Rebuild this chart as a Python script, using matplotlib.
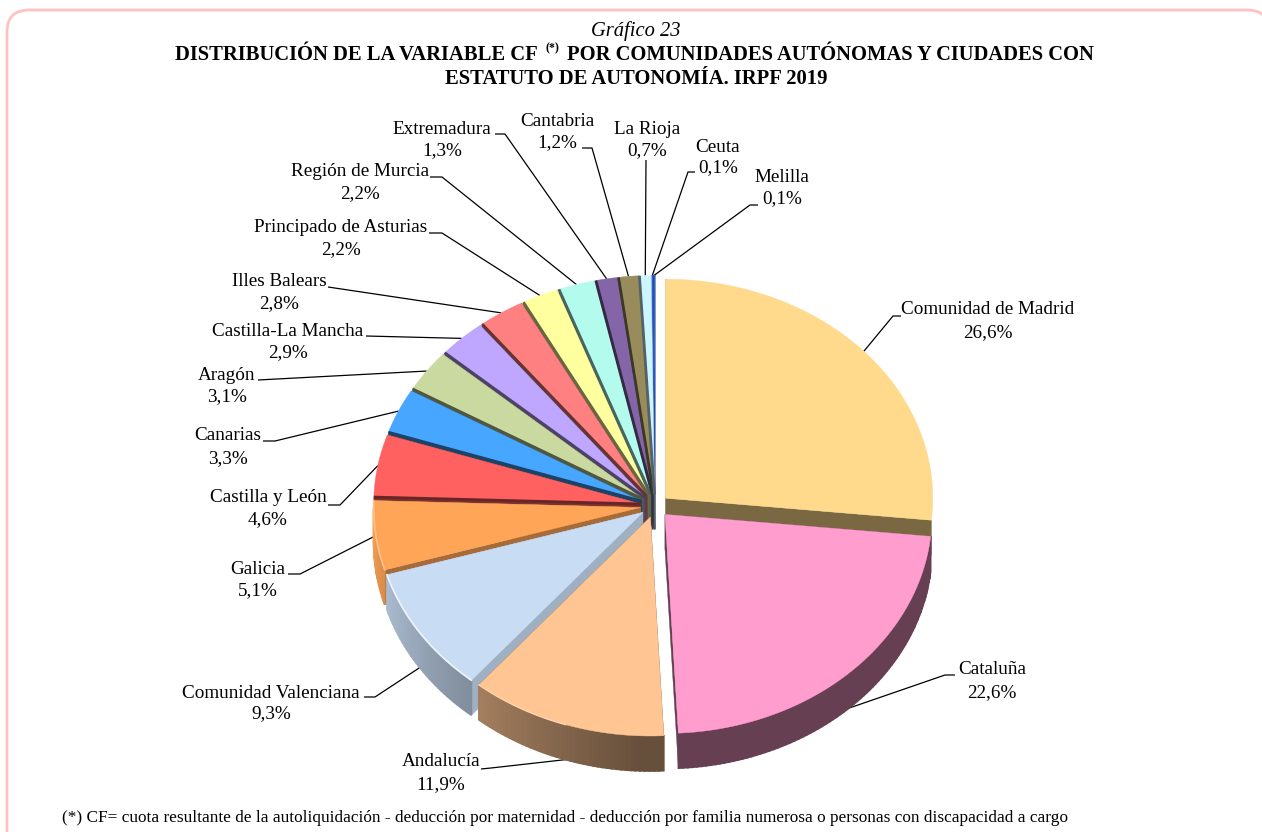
import numpy as np
import matplotlib
matplotlib.use("Agg")
import matplotlib.pyplot as plt
from matplotlib.patches import FancyBboxPatch

plt.rcParams["font.family"] = ["Liberation Serif", "DejaVu Serif"]

regions = ["Comunidad de Madrid", "Cataluña", "Andalucía", "Comunidad Valenciana",
           "Galicia", "Castilla y León", "Canarias", "Aragón", "Castilla-La Mancha",
           "Illes Balears", "Principado de Asturias", "Región de Murcia", "Extremadura",
           "Cantabria", "La Rioja", "Ceuta", "Melilla"]
shares = [26.6, 22.6, 11.9, 9.3, 5.1, 4.6, 3.3, 3.1, 2.9, 2.8, 2.2, 2.2, 1.3, 1.2, 0.7, 0.1, 0.1]
colors = ["#ffd98c", "#ff9dcf", "#ffc593", "#c8dcf4", "#ffa558", "#ff6060", "#47a6ff",
          "#c9d9a0", "#bfa6ff", "#ff8080", "#ffff9f", "#b3fbec", "#8465a8", "#998c5c",
          "#ccf6ff", "#2d60d0", "#2d60d0"]
# how dark the cut faces are, by slice
cut_shade = [0.48, 0.4, 0.4, 0.8, 0.65, 0.5, 0.42, 0.42, 0.42, 0.42, 0.42, 0.42, 0.42, 0.42, 0.42, 0.42, 0.42]

# pie geometry in pixels
cx, cy = 655, 506
rx, ry = 267, 219
explode = 14.5
tilt = 0.8
depth = 35

# label centre x, name y, value y, elbow (x0, y0, x1, y1)
label_layout = [
    (988, 310, 333, (901, 316, 893, 316)),
    (992, 670, 693, (955, 675, 945, 675)),
    (441, 762, 785, (481, 769, 491, 768)),
    (271, 693, 714, (364, 697, 375, 697)),
    (258, 569, 591, (288, 574, 300, 574)),
    (268, 498, 520, (328, 505, 340, 505)),
    (228, 436, 459, (263, 441, 275, 441)),
    (227, 376, 397, (258, 380, 258, 380)),
    (288, 331, 353, (366, 336, 366, 336)),
    (279, 282, 304, (328, 287, 328, 287)),
    (341, 228, 250, (429, 233, 442, 233)),
    (360, 171, 194, (430, 177, 442, 177)),
    (442, 129, 151, (495, 134, 505, 134)),
    (557, 121, 143, (582, 148, 592, 148)),
    (647, 129, 151, (646, 160, 646, 160)),
    (718, 147, 168, (695, 172, 688, 172)),
    (782, 177, 199, (758, 205, 750, 205)),
]


def rim(theta, ox, oy):
    t = np.radians(theta)
    return ox + rx * np.sin(t), oy - ry * np.cos(t)


def shaded(color, f):
    c = np.array(matplotlib.colors.to_rgb(color))
    return tuple(np.clip(c * f, 0, 1))


def lighter(color, f):
    c = np.array(matplotlib.colors.to_rgb(color))
    return tuple(c + (1 - c) * f)


fig = plt.figure(figsize=(12.62, 8.32), dpi=100)
ax = fig.add_axes([0, 0, 1, 1])
ax.set_xlim(0, 1262)
ax.set_ylim(832, 0)
ax.axis("off")

ax.add_patch(FancyBboxPatch((7, 10), 1262, 860, boxstyle="round,pad=0,rounding_size=22",
                            fc="white", ec="#ffc2c2", lw=2))

edges = np.cumsum([0] + shares) * 3.6
mids = (edges[:-1] + edges[1:]) / 2
ox = cx + explode * np.sin(np.radians(mids))
oy = cy - explode * tilt * np.cos(np.radians(mids))

# back slices first so the nearer ones paint over them
order = [0] + list(range(16, 2, -1)) + [1, 2]
for i in order:
    a0, a1 = edges[i], edges[i + 1]
    col = colors[i]
    # cut faces
    for a in (a0, a1):
        x, y = rim(a, ox[i], oy[i])
        ax.fill([ox[i], x, x, ox[i]], [oy[i], y, y + depth, oy[i] + depth],
                color=shaded(col, cut_shade[i]), lw=0.3, zorder=2)
    # outer wall, split up so the light can run along it
    th = np.linspace(a0, a1, max(int(a1 - a0), 2) + 1)
    for t0, t1 in zip(th[:-1], th[1:]):
        if i == 0 or np.cos(np.radians((t0 + t1) / 2)) > 0:
            continue
        x0, y0 = rim(t0, ox[i], oy[i])
        x1, y1 = rim(t1, ox[i], oy[i])
        f = max(0.4, 0.37 + ((t0 + t1) / 2 - 177) * 0.0063)
        ax.fill([x0, x1, x1, x0], [y0, y1, y1 + depth, y0 + depth],
                color=shaded(col, f), lw=1.2, zorder=2)
    # top face
    th = np.linspace(a0, a1, max(int(a1 - a0) * 2, 2) + 1)
    xs, ys = rim(th, ox[i], oy[i])
    ax.fill(np.r_[ox[i], xs], np.r_[oy[i], ys], color=col, lw=0.3, zorder=2)
    if i in (3, 4):
        ax.plot(xs, ys, color=lighter(col, 0.7 if i == 3 else 0.3), lw=1.2, zorder=2)
    if i == 2:
        ax.plot(xs[len(xs) // 2:], ys[len(ys) // 2:], color=lighter(col, 0.25), lw=1.0, zorder=2)

# the dark seams between the small slices
for i in range(5, 15):
    x, y = rim(edges[i], ox[i], oy[i])
    ax.plot([ox[i], x], [oy[i], y], color=shaded(colors[i], 0.4), lw=2.0, zorder=3,
            solid_capstyle="butt")

for i, name in enumerate(regions):
    lx, y0, y1, elbow = label_layout[i]
    ax.text(lx, y0, name, ha="center", va="center", fontsize=13.8, color="black", zorder=5)
    ax.text(lx, y1, f"{shares[i]:.1f}%".replace(".", ","), ha="center", va="center",
            fontsize=13.8, color="black", zorder=5)
    ex, ey = rim(mids[i], ox[i], oy[i])
    if np.cos(np.radians(mids[i])) < -0.3:
        ey += depth
    ax.plot([elbow[0], elbow[2], ex], [elbow[1], elbow[3], ey], color="black", lw=0.9,
            zorder=1, solid_capstyle="butt")

ax.text(636, 31, "Gráfico 23", ha="center", va="center", style="italic", fontsize=14.8)
ax.text(175, 55, "DISTRIBUCIÓN DE LA VARIABLE CF", ha="left", va="center", weight="bold", fontsize=14.85)
ax.text(545, 48, "(*)", ha="left", va="center", weight="bold", fontsize=8.5)
ax.text(567, 55, "POR COMUNIDADES AUTÓNOMAS Y CIUDADES CON", ha="left", va="center", weight="bold", fontsize=14.8)
ax.text(636, 79, "ESTATUTO DE AUTONOMÍA. IRPF 2019", ha="center", va="center", weight="bold", fontsize=14.9)
ax.text(62, 817.5, "(*) CF= cuota resultante de la autoliquidación - deducción por maternidad - "
        "deducción por familia numerosa o personas con discapacidad a cargo",
        ha="left", va="center", fontsize=12.45)

fig.savefig("out.png", dpi=100)
